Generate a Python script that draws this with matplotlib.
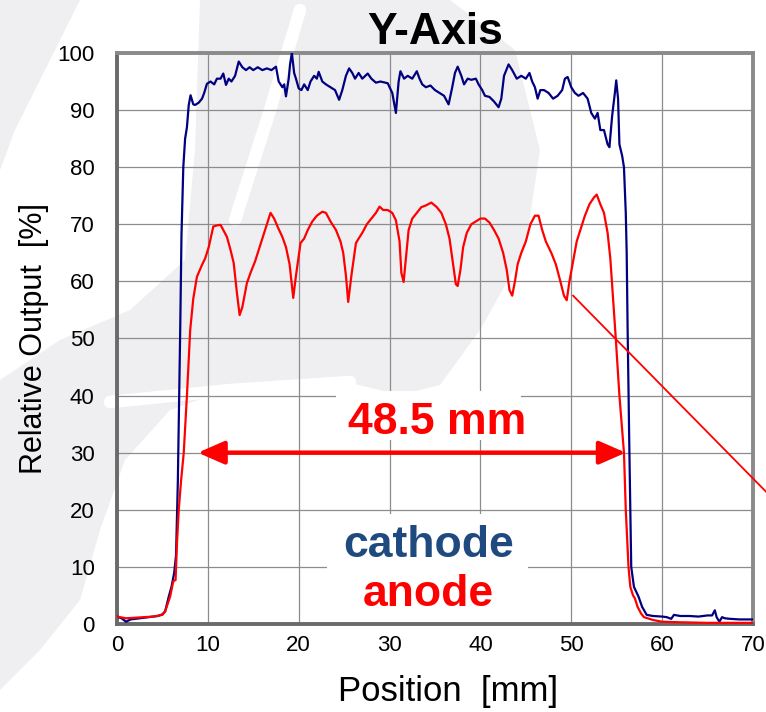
import matplotlib
matplotlib.use("Agg")
import matplotlib.pyplot as plt
from matplotlib.patches import Polygon, Rectangle

plt.rcParams['font.family'] = ['Liberation Sans', 'DejaVu Sans']

# values
cathode_x = [0.0, 0.5, 1.0, 1.5, 2.5, 3.5, 4.5, 5.0, 5.3, 5.7, 6.0, 6.3, 6.5, 6.7, 6.96, 7.1, 7.3,
             7.5, 7.7, 7.9, 8.1, 8.4, 8.6, 9.0, 9.36, 9.6, 9.9, 10.3, 10.7, 11.0, 11.4, 11.7, 12.0,
             12.3, 12.6, 13.0, 13.4, 13.8, 14.2, 14.6, 15.0, 15.5, 16.0, 16.5, 17.0, 17.5, 17.8,
             18.2, 18.4, 18.6, 18.9, 19.05, 19.25, 19.5, 19.7, 20.0, 20.3, 20.6, 21.0, 21.3, 21.7,
             22.0, 22.2, 22.6, 23.0, 23.5, 24.0, 24.45, 24.8, 25.2, 25.55, 25.9, 26.2, 26.6, 27.0,
             27.6, 28.0, 28.5, 29.0, 29.8, 30.3, 30.7, 31.0, 31.2, 31.6, 32.0, 32.5, 33.0, 33.3,
             33.6, 34.0, 34.5, 35.0, 35.5, 36.0, 36.5, 36.9, 37.2, 37.5, 37.9, 38.2, 38.6, 39.0,
             39.5, 39.8, 40.2, 40.5, 41.0, 41.5, 42.0, 42.3, 42.6, 43.1, 43.5, 44.0, 44.5, 45.0,
             45.4, 45.7, 46.0, 46.3, 46.6, 47.0, 47.5, 48.0, 48.5, 49.0, 49.3, 49.6, 50.0, 50.4,
             50.8, 51.3, 51.8, 52.2, 52.6, 52.9, 53.2, 53.6, 54.0, 54.2, 54.5, 54.8, 54.95, 55.15,
             55.3, 55.6, 55.8, 56.0, 56.1, 56.2, 56.4, 56.6, 56.9, 57.4, 57.8, 58.3, 59.0, 60.0,
             60.5, 61.0, 61.3, 62.0, 63.0, 64.0, 65.0, 65.5, 65.8, 66.0, 66.3, 66.6, 66.9, 67.5,
             68.5, 70.0]
cathode_y = [1.3, 1.0, 0.4, 0.8, 1.0, 1.2, 1.4, 1.7, 2.2, 4.8, 6.5, 9.0, 12.0, 25.0, 51.5, 68.0, 80.0,
             85.0, 87.0, 90.9, 92.6, 91.0, 90.9, 91.3, 92.0, 93.0, 94.6, 95.0, 94.5, 95.5, 95.5, 96.4, 94.4,
             95.5, 95.0, 96.0, 98.5, 97.5, 97.0, 97.5, 97.0, 97.5, 97.0, 97.3, 97.0, 97.6, 95.0,
             94.0, 94.5, 92.4, 95.5, 98.0, 100.0, 96.5, 95.5, 93.8, 93.5, 94.5, 93.5, 95.0, 96.0,
             95.5, 96.7, 95.0, 94.5, 94.0, 93.5, 91.8, 93.5, 96.0, 97.3, 96.5, 95.5, 96.5, 95.5,
             96.4, 95.5, 94.8, 95.0, 94.7, 93.0, 89.5, 95.0, 96.8, 95.5, 96.0, 95.5, 96.8, 95.5,
             94.5, 94.0, 94.3, 93.5, 93.0, 92.5, 91.0, 94.0, 96.5, 97.6, 96.0, 94.5, 95.5, 95.3,
             95.5, 94.5, 93.5, 92.5, 92.3, 91.5, 90.5, 92.0, 96.0, 98.0, 97.0, 95.5, 96.0, 95.5,
             96.5, 95.0, 94.0, 92.0, 93.5, 93.5, 93.0, 92.0, 92.5, 93.5, 95.5, 95.8, 94.0, 93.0,
             92.5, 93.0, 92.0, 89.5, 88.5, 89.5, 86.5, 86.5, 84.0, 83.5, 89.0, 93.0, 95.2, 92.0,
             84.0, 82.0, 80.0, 72.0, 65.0, 52.0, 30.0, 10.0, 6.5, 4.8, 3.0, 1.6, 1.4, 1.3,
             1.2, 0.9, 1.6, 1.4, 1.4, 1.3, 1.5, 1.5, 2.4, 1.2, 0.4, 1.2, 1.0, 0.9,
             0.8, 0.8]

anode_x = [0.0, 1.0, 2.0, 3.0, 4.0, 5.0, 5.3, 5.85, 6.2, 6.45, 6.6, 6.8, 7.05, 7.35, 7.7, 8.06, 8.4,
           8.8, 9.36, 9.7, 10.1, 10.6, 11.0, 11.4, 11.7, 12.1, 12.5, 12.85, 13.2, 13.5, 13.8, 14.3,
           14.7, 15.2, 15.7, 16.2, 16.6, 16.9, 17.3, 17.7, 18.2, 18.6, 19.0, 19.2, 19.4, 19.7,
           20.2, 20.6, 21.0, 21.5, 22.0, 22.6, 23.0, 23.5, 24.1, 24.6, 24.9, 25.2, 25.45, 25.8,
           26.3, 26.6, 27.0, 27.5, 28.0, 28.5, 28.9, 29.3, 29.8, 30.3, 30.7, 31.1, 31.3, 31.55,
           31.8, 32.1, 32.5, 33.0, 33.5, 34.0, 34.6, 35.2, 35.7, 36.2, 36.6, 37.0, 37.3, 37.5,
           37.8, 38.1, 38.5, 39.0, 39.5, 40.0, 40.5, 41.0, 41.5, 42.0, 42.5, 42.9, 43.2, 43.5,
           43.8, 44.1, 44.5, 45.0, 45.5, 46.0, 46.4, 46.8, 47.2, 47.8, 48.3, 48.8, 49.2, 49.5,
           49.8, 50.2, 50.6, 51.0, 51.5, 52.0, 52.5, 52.8, 53.2, 53.6, 54.0, 54.3, 54.6, 54.9,
           55.3, 55.8, 56.0, 56.3, 56.5, 56.8, 57.0, 57.3, 57.7, 58.0, 59.0, 60.0, 62.0, 65.0,
           70.0]
anode_y = [1.3, 1.0, 1.1, 1.2, 1.3, 1.6, 2.2, 4.8, 7.5, 7.7, 14.0, 20.0, 25.0, 30.0, 40.0, 51.5, 57.0,
           60.8, 62.9, 64.0, 66.0, 69.6, 69.8, 69.9, 69.0, 67.8, 65.5, 63.2, 58.0, 54.1, 55.5, 59.7,
           61.5, 63.5, 66.0, 68.5, 70.5, 72.0, 71.0, 69.5, 67.8, 66.0, 63.0, 60.0, 57.1, 61.0,
           66.7, 67.5, 69.0, 70.5, 71.5, 72.2, 72.0, 70.5, 69.0, 67.0, 65.0, 61.0, 56.4, 61.0,
           66.7, 67.5, 68.5, 70.0, 71.0, 72.0, 73.1, 72.5, 72.5, 72.0, 70.7, 67.0, 61.5, 59.9,
           64.0, 69.0, 71.0, 72.0, 73.0, 73.3, 73.8, 73.0, 72.0, 70.0, 67.5, 63.0, 59.5, 59.2,
           62.0, 66.0, 68.5, 70.0, 70.5, 71.0, 71.0, 70.3, 69.0, 67.5, 65.0, 62.0, 58.5, 57.5,
           60.0, 63.0, 65.0, 67.0, 70.0, 71.5, 71.5, 69.0, 67.0, 65.0, 63.0, 60.0, 57.5, 56.7,
           60.0, 63.5, 67.0, 69.0, 71.5, 73.5, 74.7, 75.2, 73.5, 72.0, 68.5, 64.0, 57.0, 50.0,
           40.0, 30.0, 20.0, 10.0, 6.5, 5.0, 4.5, 3.0, 1.8, 1.2, 0.7, 0.4, 0.3, 0.2,
           0.2]

x_ticks = [0, 10, 20, 30, 40, 50, 60, 70]
y_ticks = [0, 10, 20, 30, 40, 50, 60, 70, 80, 90, 100]

width_start, width_end, width_level = 8.9, 56.0, 30   # arrow for the 48.5 mm width
pointer = ([50.2, 71.6], [57.5, 22.9])                 # thin red pointer line

W, H = 766, 712
fig = plt.figure(figsize=(W / 100, H / 100), dpi=100)

# faint logo watermark behind the chart (figure pixel coords, y from top)
def px(pts):
    return [(x / W, 1 - y / H) for x, y in pts]

wm = '#efeff1'
blobs = [
    [(200, 0), (450, 0), (515, 50), (540, 150), (525, 250), (480, 330), (440, 385), (400, 395),
     (330, 378), (240, 385), (170, 410), (125, 460), (100, 530), (80, 600), (40, 650), (0, 690),
     (0, 380), (60, 340), (130, 310), (185, 260), (195, 150)],
    [(0, 0), (80, 0), (50, 60), (15, 130), (0, 170)],
]
for b in blobs:
    fig.patches.append(Polygon(px(b), closed=True, transform=fig.transFigure,
                               facecolor=wm, edgecolor='none', zorder=-2))
for stroke in [[(300, 10), (270, 110), (235, 220)], [(110, 402), (230, 390), (350, 382)]]:
    xs, ys = zip(*px(stroke))
    fig.add_artist(plt.Line2D(xs, ys, transform=fig.transFigure, color='white',
                              lw=9, solid_capstyle='round', zorder=-1))

ax = fig.add_axes([0.1527, 0.1236, 0.8303, 0.802])
ax.set_facecolor('none')

ax.plot(cathode_x, cathode_y, color='#000080', lw=1.6, zorder=4)
ax.plot(anode_x, anode_y, color='#ff0000', lw=1.6, zorder=5)

ax.set_xlim(0, 70)
ax.set_ylim(0, 100)
ax.set_xticks(x_ticks)
ax.set_yticks(y_ticks)
ax.tick_params(length=0, labelsize=16, colors='black')
ax.tick_params(axis='x', pad=8)
ax.tick_params(axis='y', pad=16)
ax.grid(True, color='#8c8c8c', lw=0.9)
ax.set_axisbelow(True)
for side in ['top', 'right']:
    ax.spines[side].set_color('#8a8a8a')
    ax.spines[side].set_linewidth(2.8)
for side in ['left', 'bottom']:
    ax.spines[side].set_color('#6a6a6a')
    ax.spines[side].set_linewidth(2.8)

ax.set_title('Y-Axis', fontsize=32, fontweight='bold', pad=4)
ax.set_xlabel('Position  [mm]', fontsize=25)
ax.xaxis.set_label_coords(0.52, -0.09)
ax.set_ylabel('Relative Output  [%]', fontsize=22, labelpad=6)

# white panels hiding the grid behind the labels
ax.add_patch(Rectangle((24.1, 32.2), 20.4, 8.6, facecolor='white', edgecolor='none', zorder=2))
ax.add_patch(Rectangle((23.1, 0.3), 22.1, 19.0, facecolor='white', edgecolor='none', zorder=2))

ax.annotate('', xy=(width_start, width_level), xytext=(width_end, width_level),
            arrowprops=dict(arrowstyle='<|-|>,head_length=0.8,head_width=0.35', color='#ff0000',
                            lw=3.2, mutation_scale=20, shrinkA=0, shrinkB=0), zorder=6)
ax.text(35.2, 35.3, '48.5 mm', color='#ff0000', fontsize=32, fontweight='bold',
        ha='center', va='center', zorder=6)
ax.text(34.3, 13.8, 'cathode', color='#1f4a80', fontsize=32, fontweight='bold',
        ha='center', va='center', zorder=6)
ax.text(34.3, 5.1, 'anode', color='#ff0000', fontsize=32, fontweight='bold',
        ha='center', va='center', zorder=6)
ax.plot(pointer[0], pointer[1], color='#ff0000', lw=1.3, clip_on=False, zorder=6)

fig.savefig('out.png', dpi=100)
